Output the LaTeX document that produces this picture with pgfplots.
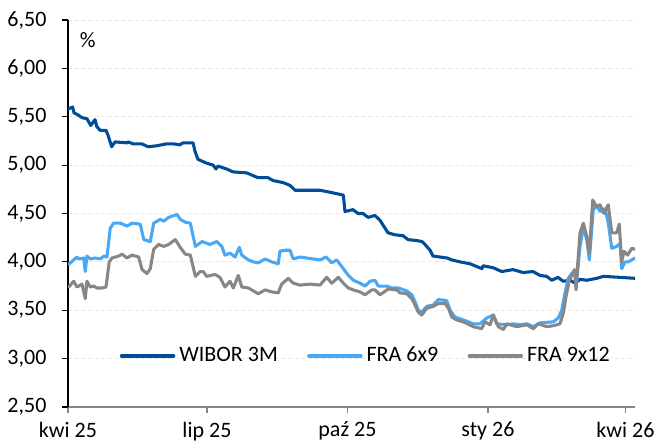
\documentclass[border=0pt]{standalone}
\usepackage{pgfplots}
\pgfplotsset{compat=1.18}
\usepackage{fontspec}
\setmainfont{Carlito}
\definecolor{wibor}{RGB}{0,76,152}
\definecolor{fraA}{RGB}{72,168,245}
\definecolor{fraB}{RGB}{135,135,135}
\definecolor{gridc}{RGB}{232,232,232}
\begin{document}
\fontsize{16.5}{19}\selectfont
\begin{tikzpicture}
\useasboundingbox (-51pt,-28.5pt) rectangle (443.25pt,305.25pt);
\begin{axis}[
  scale only axis,
  width=425.25pt, height=290.25pt,
  xmin=0, xmax=371.3,
  ymin=2.5, ymax=6.5,
  /pgf/number format/assume math mode=true,
  xtick={0,91,183,275,365},
  xticklabels={kwi 25,lip 25,paź 25,sty 26,kwi 26},
  ytick={2.5,3,3.5,4,4.5,5,5.5,6,6.5},
  yticklabel={\pgfmathprintnumber[fixed,fixed zerofill,precision=2,use comma]{\tick}},
  axis x line*=bottom, axis y line*=left,
  x axis line style={-, draw=fraB, line width=0.9pt},
  y axis line style={-, draw=black, line width=0.9pt},
  tick align=outside,
  major tick length=4.5pt,
  x tick style={draw=fraB, line width=0.9pt},
  y tick style={draw=black, line width=0.9pt},
  ymajorgrids,
  major grid style={draw=gridc, densely dashed, line width=0.7pt},
  yticklabel style={xshift=-6pt},
  xticklabel style={yshift=-1pt},
  tick label style={font=\fontsize{16.5}{19}\selectfont},
  legend columns=3,
  legend style={at={(0.527,0.132)}, anchor=center, draw=none, fill=none,
    font=\fontsize{16.5}{19}\selectfont,
    /tikz/every even column/.append style={column sep=19pt},
    nodes={inner xsep=3pt}},
  legend image code/.code={\draw[#1, line width=2.6pt] (0pt,0pt) -- (39pt,0pt);},
  every axis plot/.append style={line width=2.3pt, line join=round, line cap=round},
]
\addplot[wibor] table[x=d,y=v] {
d v
0 5.58
3.1 5.60
3.9 5.54
6.5 5.52
9.2 5.49
12.4 5.48
14.9 5.41
17.7 5.47
18.8 5.40
21.0 5.36
24.9 5.36
26.2 5.31
28.6 5.19
30.8 5.24
38.6 5.23
39.3 5.24
42.6 5.22
48.3 5.22
52.4 5.19
58.1 5.20
64.6 5.22
68.8 5.22
73.3 5.21
75.3 5.23
81.9 5.23
83.2 5.14
85.1 5.06
90.8 5.02
95.0 5.00
96.9 4.96
98.2 4.99
103.9 4.96
108.1 4.93
117.0 4.92
124.4 4.87
131.0 4.87
134.3 4.84
140.8 4.82
145.4 4.79
148.7 4.74
165.0 4.74
171.6 4.72
180.3 4.69
181.4 4.52
186.6 4.54
189.9 4.50
193.2 4.50
196.5 4.46
201.0 4.48
204.3 4.43
206.3 4.38
209.6 4.30
214.1 4.28
219.4 4.27
222.7 4.23
228.6 4.22
231.8 4.21
233.8 4.18
237.1 4.12
239.0 4.06
243.6 4.05
248.2 4.04
251.5 4.02
256.7 4.00
263.3 3.98
267.9 3.95
271.1 3.93
271.8 3.96
278.3 3.94
284.0 3.90
291.4 3.92
298.0 3.89
304.5 3.90
309.1 3.86
313.5 3.85
316.8 3.81
320.9 3.84
324.2 3.80
328.8 3.81
332.0 3.78
335.3 3.82
339.7 3.81
346.2 3.83
350.6 3.85
361.5 3.84
371.3 3.83
};
\addlegendentry{WIBOR 3M}
\addplot[fraA] table[x=d,y=v] {
d v
0.5 3.975
3.7 4.02
5.9 4.05
7.0 4.03
10.3 4.04
11.3 3.90
12.4 4.06
14.6 4.03
17.9 4.04
21.2 4.03
23.4 4.06
25.5 4.05
27.7 4.35
29.9 4.40
34.3 4.40
38.6 4.37
41.9 4.40
47.3 4.39
49.6 4.23
53.9 4.21
56.1 4.40
60.4 4.44
62.7 4.42
65.9 4.46
71.4 4.49
73.5 4.44
76.8 4.41
80.1 4.40
83.4 4.16
87.8 4.21
93.0 4.18
97.4 4.21
100.7 4.16
102.8 4.07
106.1 4.09
109.4 4.05
112.2 4.15
113.8 4.07
118.1 4.02
121.4 4.00
124.6 3.99
129.0 4.03
133.4 4.00
137.7 3.98
138.8 4.11
142.1 4.12
145.4 4.12
147.5 4.03
151.9 4.05
156.3 4.04
160.6 4.03
165.0 4.02
169.0 4.05
172.7 3.99
176.0 4.02
180.3 3.93
183.6 3.86
186.8 3.81
191.2 3.78
194.5 3.75
197.8 3.80
201.0 3.81
203.2 3.75
208.7 3.75
212.0 3.73
216.3 3.73
221.8 3.70
225.1 3.66
227.2 3.59
229.4 3.50
231.6 3.48
234.9 3.54
239.2 3.555
242.5 3.61
248.0 3.60
250.2 3.50
253.4 3.43
258.9 3.40
265.4 3.36
269.8 3.36
274.2 3.42
278.5 3.45
280.7 3.36
287.3 3.35
291.6 3.36
296.0 3.35
300.4 3.36
304.7 3.33
309.1 3.37
317.8 3.38
321.1 3.42
323.3 3.50
325.5 3.68
327.6 3.83
329.9 3.88
332.0 3.90
333.1 3.80
335.3 4.16
337.5 4.36
339.7 4.23
341.4 4.02
344.0 4.54
346.2 4.58
348.4 4.52
351.7 4.55
353.8 4.40
356.1 4.14
359.3 4.16
361.5 4.19
362.6 3.93
364.8 4.00
366.9 4.00
369.2 4.02
371.3 4.04
};
\addlegendentry{FRA 6x9}
\addplot[fraB] table[x=d,y=v] {
d v
0.5 3.74
3.7 3.80
5.9 3.74
9.2 3.77
11.3 3.62
12.4 3.80
14.6 3.74
16.8 3.75
19.0 3.73
22.3 3.73
24.9 3.74
27.0 4.00
28.8 4.04
33.2 4.06
35.4 4.08
38.6 4.04
41.9 4.07
46.3 4.05
48.5 3.92
51.7 3.88
53.9 3.93
56.1 4.13
59.4 4.18
62.7 4.16
65.9 4.18
70.3 4.23
73.5 4.15
76.8 4.08
80.1 4.07
83.4 3.85
86.6 3.90
88.6 3.90
90.8 3.85
96.3 3.87
99.5 3.84
102.8 3.74
106.1 3.80
108.3 3.73
111.5 3.86
113.8 3.74
118.1 3.73
121.4 3.70
124.6 3.67
129.0 3.71
133.4 3.69
137.7 3.68
139.9 3.77
144.3 3.83
147.5 3.78
151.9 3.76
158.5 3.77
165.0 3.76
169.4 3.84
172.7 3.78
177.0 3.84
180.3 3.78
183.6 3.73
186.8 3.71
191.2 3.69
194.5 3.66
198.9 3.71
201.0 3.71
204.3 3.66
209.8 3.72
215.3 3.71
217.4 3.68
221.8 3.67
225.1 3.62
227.2 3.555
229.4 3.48
231.6 3.45
234.9 3.52
239.2 3.54
242.5 3.57
246.9 3.57
249.1 3.52
251.3 3.43
254.5 3.40
258.9 3.38
265.4 3.33
270.9 3.31
273.1 3.38
276.4 3.35
278.5 3.45
281.8 3.33
285.1 3.30
287.3 3.36
293.8 3.33
300.4 3.35
304.7 3.31
308.0 3.36
313.5 3.33
317.8 3.34
322.2 3.36
324.4 3.47
326.1 3.64
328.3 3.81
329.9 3.86
331.6 3.92
332.7 3.71
333.5 3.92
335.3 4.30
337.5 4.40
339.7 4.26
341.4 4.09
343.6 4.64
346.2 4.57
348.4 4.59
351.0 4.50
353.8 4.59
356.1 4.30
359.3 4.30
361.0 4.39
362.6 4.00
364.1 4.11
366.5 4.07
369.2 4.14
371.3 4.13
};
\addlegendentry{FRA 9x12}
\node[anchor=center, font=\fontsize{16.5}{19}\selectfont] at (rel axis cs:0.035,0.948) {\%};
\end{axis}
\end{tikzpicture}
\end{document}
